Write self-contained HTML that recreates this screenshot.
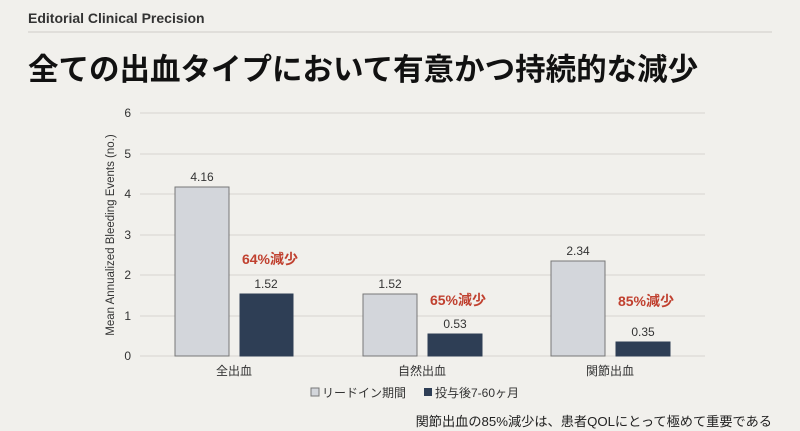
<!DOCTYPE html>
<html><head><meta charset="utf-8"><style>
body{margin:0;width:800px;height:431px;background:#f1f0ec;overflow:hidden;font-family:"Liberation Sans","Noto Sans CJK JP",sans-serif;}
svg{position:absolute;left:0;top:0}
</style></head><body>
<svg width="800" height="431" xmlns="http://www.w3.org/2000/svg" font-family="Liberation Sans, Noto Sans CJK JP, sans-serif">
<text x="28" y="23" font-size="14" font-weight="bold" fill="#333">Editorial Clinical Precision</text>
<line x1="28" y1="32" x2="772" y2="32" stroke="#cfcdc8" stroke-width="1"/>
<text x="28" y="80" font-size="30.5" font-weight="bold" fill="#111">全ての出血タイプにおいて有意かつ持続的な減少</text>
<g stroke="#d6d4cf" stroke-width="1">
<line x1="140" y1="113" x2="705" y2="113"/>
<line x1="140" y1="154" x2="705" y2="154"/>
<line x1="140" y1="194" x2="705" y2="194"/>
<line x1="140" y1="235" x2="705" y2="235"/>
<line x1="140" y1="275" x2="705" y2="275"/>
<line x1="140" y1="316" x2="705" y2="316"/>
<line x1="140" y1="356" x2="705" y2="356"/>
</g>
<g font-size="12" fill="#333" text-anchor="end">
<text x="131" y="117">6</text><text x="131" y="158">5</text><text x="131" y="198">4</text>
<text x="131" y="239">3</text><text x="131" y="279">2</text><text x="131" y="320">1</text><text x="131" y="360">0</text>
</g>
<text transform="translate(114,235) rotate(-90)" font-size="11.5" fill="#333" text-anchor="middle">Mean Annualized Bleeding Events (no.)</text>
<g stroke="#777" stroke-width="1">
<rect x="175" y="187" width="54" height="169" fill="#d3d6db"/>
<rect x="240" y="294" width="53" height="62" fill="#2e3e55" stroke="#2e3e55"/>
<rect x="363" y="294" width="54" height="62" fill="#d3d6db"/>
<rect x="428" y="334" width="54" height="22" fill="#2e3e55" stroke="#2e3e55"/>
<rect x="551" y="261" width="54" height="95" fill="#d3d6db"/>
<rect x="616" y="342" width="54" height="14" fill="#2e3e55" stroke="#2e3e55"/>
</g>
<g font-size="12" fill="#333" text-anchor="middle">
<text x="202" y="181">4.16</text><text x="266" y="288">1.52</text>
<text x="390" y="288">1.52</text><text x="455" y="328">0.53</text>
<text x="578" y="255">2.34</text><text x="643" y="336">0.35</text>
<text x="234" y="375">全出血</text><text x="422" y="375">自然出血</text><text x="610" y="375">関節出血</text>
</g>
<g font-size="14" font-weight="bold" fill="#c0402f" text-anchor="middle">
<text x="270" y="264">64%減少</text><text x="458" y="305">65%減少</text><text x="646" y="306">85%減少</text>
</g>
<rect x="311" y="388" width="8" height="8" fill="#d3d6db" stroke="#777"/>
<text x="322" y="397" font-size="12" fill="#333">リードイン期間</text>
<rect x="424" y="388" width="8" height="8" fill="#2e3e55"/>
<text x="435" y="397" font-size="12" fill="#333">投与後7-60ヶ月</text>
<text x="772" y="426" font-size="13.2" fill="#222" text-anchor="end">関節出血の85%減少は、患者QOLにとって極めて重要である</text>
</svg>
</body></html>
